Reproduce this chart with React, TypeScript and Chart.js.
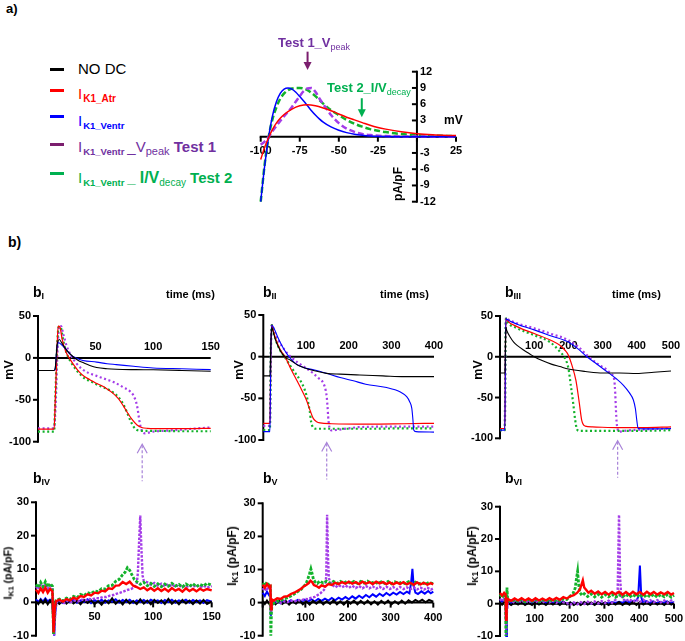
import React, { useEffect, useRef } from 'react';
import { Chart, registerables } from 'chart.js';
Chart.register(...registerables);

type P = [number, number][];

// ---------------- Panel a : I/V relationships (mV, pA/pF) ----------------
const ivRed: P = [[-100,-4.2],[-97.5,-2],[-95,-0.2],[-92.5,1.3],[-90,2.5],[-87.5,3.4],[-85,4.1],[-80,5.1],[-75,5.7],[-70,5.9],[-65,5.7],[-60,5.3],[-55,4.8],[-50,4.2],[-45,3.6],[-40,3.1],[-35,2.6],[-30,2.1],[-25,1.7],[-20,1.4],[-10,0.9],[0,0.55],[10,0.35],[25,0.2]];
const ivBlue: P = [[-100,-12],[-97.5,-5.5],[-95,-0.2],[-92.5,3.8],[-90,6.4],[-87.5,8],[-85,8.8],[-82.5,9],[-80,8.8],[-77.5,8.2],[-75,7.4],[-72.5,6.6],[-70,5.7],[-67.5,4.8],[-65,4],[-62.5,3.3],[-60,2.7],[-55,1.8],[-50,1.2],[-45,0.75],[-40,0.45],[-35,0.27],[-30,0.15],[-20,0.05],[0,0.01],[25,0]];
const ivPurple: P = [[-100,-1.5],[-97.5,-0.9],[-95,-0.1],[-92.5,1],[-90,2],[-87.5,2.9],[-85,3.8],[-82.5,4.6],[-80,5.5],[-77.5,6.5],[-75,7.5],[-72.5,8.4],[-70,8.9],[-67.5,9],[-65,8.3],[-62.5,7.1],[-60,6],[-57.5,5],[-55,4],[-52.5,3.2],[-50,2.5],[-45,1.5],[-40,0.9],[-35,0.5],[-30,0.3],[-20,0.12],[0,0.03],[25,0]];
const ivGreen: P = [[-100,-12],[-97.5,-5.2],[-95,-0.2],[-92.5,3.2],[-90,5.4],[-87.5,7],[-85,8],[-82.5,8.6],[-80,8.9],[-77.5,9],[-75,9],[-72.5,8.9],[-70,8.6],[-67.5,8.1],[-65,7.5],[-62.5,6.8],[-60,6.1],[-55,4.9],[-50,4],[-45,3.1],[-40,2.4],[-35,1.85],[-30,1.4],[-25,1.1],[-20,0.85],[-10,0.5],[0,0.3],[10,0.2],[25,0.1]];
const ivXTicks = [-100, -75, -50, -25, 0, 25];
const ivXLabels = ['-100', '-75', '-50', '-25', '', '25'];
const ivYTicks = [-12, -9, -6, -3, 0, 3, 6, 9, 12];
const ivYLabels = ['-12', '-9', '-6', '-3', '', '3', '6', '9', '12'];
const ivArrowX = [-70, -35.3];
const ivArrowFrom = [15.7, 7.1];
const ivArrowTo = [12.3, 3.6];

// ---------------- Panels bI-bIII : action potentials (ms, mV) ----------------
const apYTicks = [-100, -50, 0, 50];
const apYLabels = ['-100', '-50', '0', '50'];

const bI_black: P = [[0,-15],[14,-15],[15,-12],[16.5,15],[18.5,22],[21,17],[25,9],[30,2],[35,-3],[39,-5.5],[45,-9],[51,-11.5],[60,-13],[68,-13.6],[85,-14],[100,-14.2],[125,-15],[150,-16]];
const bI_blue: P = [[0,-15],[14,-15],[15,-12],[16.5,12],[18,18],[21,15],[25,9],[29,3],[33,0],[39,-3],[51,-5],[60,-7],[68,-8],[83,-10],[100,-12],[125,-13],[150,-14]];
const bI_red: P = [[0,-85],[14,-85],[15,-50],[16.5,10],[17.5,38],[19,37],[21,22],[24,8],[28,-2],[32,-10],[36,-17],[40,-22],[45,-26],[50,-30],[55,-33],[60,-37],[65,-42],[70,-49],[74,-57],[78,-66],[82,-74],[86,-80],[90,-83],[95,-84],[110,-84.5],[130,-84.5],[150,-84]];
const bI_green: P = [[0,-88],[14,-88],[15,-50],[16.5,10],[18,37],[19.5,37],[22,20],[25,5],[29,-6],[33,-14],[37,-20],[41,-25],[46,-28],[50,-31],[55,-34],[60,-37],[65,-41],[70,-47],[74,-55],[77,-64],[80,-74],[83,-82],[86,-86],[90,-87],[100,-87],[120,-87.5],[150,-87.5]];
const bI_purple: P = [[0,-84],[14,-84],[15.5,-50],[17,10],[18.5,38],[20,38],[22,28],[25,14],[29,2],[33,-6],[38,-13],[44,-18],[50,-21],[54,-23],[60,-26],[66,-29],[74,-35],[80,-40],[83,-45],[86,-57],[88.6,-79],[91,-89],[93,-90],[100,-88],[110,-87],[130,-85],[150,-83]];
const bI_xTicks = [0, 50, 100, 150];
const bI_xLabels = ['', '50', '100', '150'];
const bI_arrow = 90.5;

const bII_black: P = [[0,-23],[15.5,-23],[16.5,-10],[18,20],[20,35],[24,28],[30,18],[38,9],[45,3],[55,-2],[63,-4],[80,-10],[94,-13],[120,-17],[148,-20],[180,-21],[226,-22],[280,-23],[330,-24],[400,-24]];
const bII_blue: P = [[0,-90],[15.5,-90],[16.5,-50],[18,15],[20,38],[25,34],[35,22],[45,12],[60,0],[75,-8],[94,-13],[120,-16],[148,-20],[180,-25],[211,-29],[240,-33],[289,-37],[320,-42],[336,-48],[343,-54],[348,-62],[350.5,-75],[352.5,-88],[358,-90],[400,-90.5]];
const bII_red: P = [[0,-80],[15.5,-80],[16.5,-50],[18,15],[20,38],[24,30],[30,20],[40,8],[51,0],[62,-12],[75,-25],[88,-38],[101,-52],[110,-65],[117,-74],[125,-78],[133,-79.5],[160,-80.5],[250,-81],[330,-80.5],[400,-80]];
const bII_green: P = [[0,-88],[15.5,-88],[16.5,-50],[18,15],[20,38],[24,30],[30,19],[40,7],[51,-1],[62,-10],[74,-19],[86,-28],[95,-37],[102,-48],[109,-66],[112,-78],[117,-85],[124,-86.5],[160,-86.5],[250,-86.5],[330,-86],[400,-86]];
const bII_purple: P = [[0,-83],[15.5,-83],[16.5,-50],[18,15],[20,38],[25,32],[35,20],[50,8],[62,1],[78,-6],[95,-12],[117,-20],[130,-26],[141,-32],[146,-40],[148.6,-48],[150.5,-60],[152,-72],[154,-82],[156,-87],[160,-88.5],[170,-88],[200,-86],[226,-84.5],[300,-84],[400,-84]];
const bII_xTicks = [0, 100, 200, 300, 400];
const bII_xLabels = ['', '100', '200', '300', '400'];
const bII_arrow = 148.6;

const bIII_black: P = [[0,-20],[14,-20],[15,-15],[16,15],[17,36],[20,32],[30,24],[40,18],[50,14],[70,8],[85,4],[100,0],[125,-5],[150,-9],[175,-12],[200,-15],[250,-18],[300,-20],[350,-20],[400,-20.5],[450,-19],[500,-17.5]];
const bIII_blue: P = [[0,-90],[14,-90],[15,-50],[16,15],[17.5,47],[20,46],[50,40],[100,33],[150,25.5],[200,18],[230,9],[254,0],[280,-8],[312,-18],[340,-27],[361,-35],[378,-44],[390,-53],[396,-64],[400,-78],[404,-88],[420,-88.5],[500,-88]];
const bIII_red: P = [[0,-88],[14,-88],[15,-50],[16,15],[17.5,47],[20,45],[50,37],[100,28.5],[150,20],[175,14],[190,8],[200,2],[210,-10],[222,-29],[232,-57],[239,-78],[249,-85],[270,-86],[350,-87],[420,-87],[500,-86]];
const bIII_green: P = [[0,-90],[14,-90],[15,-50],[16,15],[17.5,47],[20,44],[50,35],[100,26.5],[146,18],[176,6],[190,-2],[200,-14],[207,-35],[214,-57],[220,-78],[225,-89],[232,-91],[300,-91],[400,-91],[500,-90]];
const bIII_purple: P = [[0,-90],[14,-90],[15,-50],[16,15],[17.5,48],[20,47],[50,41],[100,35],[150,28],[200,20.5],[230,12],[254,2],[280,-7],[312,-16],[325,-21],[334,-28],[337,-45],[339,-65],[341,-80],[344,-89],[348,-92],[360,-91],[400,-89.5],[500,-88]];
const bIII_xTicks = [0, 100, 200, 300, 400, 500];
const bIII_xLabels = ['', '100', '200', '300', '400', '500'];
const bIII_arrow = 344;

// ---------------- Panels bIV-bVI : IK1 (ms, pA/pF) ----------------
const ikYTicks = [-10, 0, 10, 20, 30];
const ikYLabels = ['-10', '0', '10', '20', '30'];

const bIV_black: P = [[0,0.4],[2,-0.5],[4,0.7],[6,-0.3],[8,0.8],[10,-0.6],[12,0.5],[14,0.1],[15,-9.5],[16,-2],[17,0.3],[20,-0.5],[23,0.6],[26,-0.4],[29,0.8],[32,-0.3],[35,0.5],[38,-0.6],[41,0.7],[44,-0.2],[47,0.6],[50,-0.5],[53,0.4],[56,-0.7],[59,0.6],[62,-0.3],[65,1.2],[68,-0.4],[71,0.5],[74,-0.6],[77,0.8],[80,-0.3],[83,0.4],[86,-0.5],[89,0.9],[92,-0.4],[95,0.5],[98,-0.6],[101,0.7],[104,-0.2],[107,0.6],[110,-0.5],[113,1.0],[116,-0.4],[119,0.5],[122,-0.6],[125,0.7],[128,-0.3],[131,0.5],[134,-0.5],[137,0.6],[140,-0.4],[143,0.7],[146,-0.5],[150,0.3]];
const bIV_blue: P = [[0,0.9],[2,0.1],[4,1.0],[6,0.2],[8,1.2],[10,0.3],[12,0.8],[14,0.5],[15.5,-10],[16.5,-3],[17.5,0.2],[20,0.6],[23,-0.2],[26,0.7],[29,0],[32,0.8],[35,-0.1],[38,0.6],[41,0.1],[44,0.9],[47,-0.2],[50,0.7],[53,0],[56,0.8],[59,-0.1],[62,0.6],[65,0.2],[68,0.9],[71,-0.1],[74,0.7],[77,0.1],[80,0.8],[83,-0.2],[86,0.6],[89,0.1],[92,0.7],[95,-0.1],[98,0.8],[101,0.2],[104,0.6],[107,-0.2],[110,0.7],[113,0.1],[116,0.8],[119,-0.1],[122,0.6],[125,0.2],[128,0.8],[131,-0.1],[134,0.7],[137,0.1],[140,0.6],[143,-0.2],[146,0.7],[150,0.2]];
const bIV_red: P = [[0,3.8],[2,2.8],[4,4.2],[6,3.1],[8,4.4],[10,2.9],[12,4.0],[14,3.3],[15,-9],[16,-2],[17,0.3],[20,0.8],[23,0.2],[26,1.0],[29,0.6],[32,1.4],[35,1.0],[38,1.9],[41,1.6],[44,2.4],[47,2.1],[50,2.9],[53,2.7],[56,3.5],[59,3.3],[62,4.2],[65,4.0],[68,5.0],[71,5.1],[74,6.1],[77,5.5],[80,6.2],[83,5.0],[86,4.6],[89,4.0],[92,4.5],[95,3.6],[98,4.3],[101,3.5],[104,4.2],[107,3.4],[110,4.1],[113,3.3],[116,4.3],[119,3.5],[122,4.0],[125,3.2],[128,4.2],[131,3.4],[134,4.0],[137,3.3],[140,4.1],[143,3.5],[146,4.0],[150,3.6]];
const bIV_green: P = [[0,5.4],[2,4.4],[4,6.0],[6,4.7],[8,6.2],[10,4.6],[12,5.6],[14,4.9],[15,-9.5],[16,-2],[17,0.5],[20,1.0],[23,0.4],[26,1.3],[29,0.9],[32,1.8],[35,1.4],[38,2.4],[41,2.0],[44,2.9],[47,2.6],[50,3.4],[53,3.2],[56,4.1],[59,4.0],[62,5.0],[65,5.1],[68,6.3],[71,6.9],[74,8.3],[76,9.0],[78,10.4],[80,9.6],[82,8.2],[84,6.8],[86,6.2],[89,5.4],[92,6.0],[95,5.0],[98,5.7],[101,4.8],[104,5.6],[107,4.7],[110,5.5],[113,4.8],[116,5.7],[119,4.9],[122,5.4],[125,4.6],[128,5.5],[131,4.8],[134,5.6],[137,4.7],[140,5.4],[143,4.9],[146,5.7],[150,5.1]];
const bIV_purple: P = [[0,4.8],[2,3.9],[4,5.3],[6,4.1],[8,5.5],[10,4.0],[12,5.0],[14,4.4],[15.5,-10],[16.5,-2],[18,0.1],[21,0.4],[24,-0.2],[27,0.5],[30,0.1],[33,0.6],[36,0.3],[39,0.8],[42,0.6],[45,1.0],[48,0.9],[51,1.3],[54,1.2],[57,1.6],[60,1.6],[63,2.0],[66,2.2],[69,2.6],[72,2.9],[75,3.3],[78,3.7],[81,4.0],[84,4.5],[86,5.5],[87,9],[88,18],[89,26],[90,16],[91,8],[92,6.5],[95,6.0],[98,5.3],[101,5.8],[104,5.0],[107,5.6],[110,4.8],[113,5.5],[116,4.7],[119,5.3],[122,4.6],[125,5.2],[128,4.5],[131,5.1],[134,4.6],[137,5.2],[140,4.5],[143,5.0],[146,4.4],[150,4.9]];
const bIV_xTicks = [0, 50, 100, 150];
const bIV_xLabels = ['', '50', '100', '150'];

const bV_black: P = [[0,0.5],[5,-0.4],[10,0.6],[15,-0.3],[18,-1],[22,0.4],[30,-0.5],[38,0.6],[46,-0.4],[54,0.5],[62,-0.6],[70,0.4],[78,-0.3],[86,0.7],[94,-0.5],[102,0.4],[110,-0.6],[118,0.5],[126,-0.3],[134,0.6],[142,-0.5],[150,0.4],[158,-0.4],[166,0.7],[174,-0.5],[182,0.4],[190,-0.6],[198,0.5],[206,-0.3],[214,0.6],[222,-0.5],[230,0.5],[238,-0.4],[246,0.6],[254,-0.5],[262,0.4],[270,-0.6],[278,0.5],[286,-0.3],[294,0.6],[302,-0.5],[310,0.4],[318,-0.4],[326,0.6],[334,-0.3],[342,0.7],[350,0],[358,0.8],[366,0.2],[374,0.9],[382,0.1],[390,0.8],[400,0.3]];
const bV_blue: P = [[0,3.0],[5,2.0],[10,3.3],[15,2.2],[18,2.5],[19,-4],[21,0.2],[26,-0.4],[34,0.5],[42,-0.2],[50,0.6],[58,0],[66,0.7],[74,0.1],[82,0.8],[90,0.2],[98,0.9],[106,0.3],[114,1.0],[122,0.3],[130,1.1],[138,0.5],[146,1.2],[154,0.6],[162,1.4],[170,0.7],[178,1.5],[186,0.9],[194,1.7],[202,1.0],[210,1.9],[218,1.2],[226,2.1],[234,1.4],[242,2.3],[250,1.6],[258,2.5],[266,1.8],[274,2.7],[282,2.0],[290,2.9],[298,2.2],[306,3.0],[314,2.4],[322,3.2],[330,2.6],[338,3.3],[344,2.8],[348,6],[351,10.2],[354,5],[358,3],[364,2.6],[372,3.4],[380,2.7],[388,3.5],[394,2.8],[400,3.3]];
const bV_red: P = [[0,5.4],[5,4.5],[10,5.6],[15,4.7],[18,5],[19.5,-2],[21,1.0],[26,0.6],[34,1.3],[42,1.1],[50,1.8],[58,1.9],[66,2.6],[74,3.0],[82,3.6],[90,4.2],[96,4.9],[102,5.3],[108,5.9],[112,6.6],[116,6.2],[120,5.3],[126,5.0],[132,4.5],[138,5.2],[146,4.8],[154,5.6],[162,5.3],[170,6.0],[178,5.6],[186,6.2],[194,5.7],[202,6.3],[210,5.7],[218,6.2],[226,5.6],[234,6.3],[242,5.7],[250,6.2],[258,5.6],[266,6.3],[274,5.8],[282,6.2],[290,5.6],[298,6.1],[306,5.5],[314,6.1],[322,5.6],[330,6.2],[338,5.5],[346,6.0],[354,5.4],[362,6.1],[370,5.5],[378,6.0],[386,5.4],[394,5.9],[400,5.5]];
const bV_green: P = [[0,5.9],[5,5.1],[10,6.2],[15,5.2],[18,5.5],[19,-10],[20.5,-3],[22,0.2],[26,-0.2],[34,0.4],[42,0.6],[50,1.1],[58,1.5],[66,2.0],[74,2.6],[82,3.3],[90,4.0],[96,4.8],[102,5.8],[106,7.2],[110,8.8],[113,10.2],[116,8.7],[119,7.0],[123,6.2],[128,5.8],[134,6.5],[142,5.9],[150,6.5],[158,5.8],[166,6.4],[174,5.8],[182,6.4],[190,5.9],[198,6.5],[206,5.8],[214,6.4],[222,5.8],[230,6.4],[238,5.9],[246,6.5],[254,5.8],[262,6.3],[270,5.7],[278,6.3],[286,5.8],[294,6.4],[302,5.7],[310,6.3],[318,5.8],[326,6.2],[334,5.7],[342,6.3],[350,5.6],[358,6.2],[366,5.6],[374,6.1],[382,5.5],[390,6.1],[400,5.7]];
const bV_purple: P = [[0,4.4],[5,3.5],[10,4.6],[15,3.7],[18,4],[19.5,-3],[21,0.2],[26,-0.3],[34,0.3],[42,-0.1],[50,0.4],[58,0.1],[66,0.6],[74,0.3],[82,0.8],[90,0.6],[98,1.1],[106,1.0],[114,1.5],[122,1.7],[130,2.4],[136,2.9],[142,3.6],[146,4.2],[149,8],[151,26.5],[153,14],[155,7.5],[158,6.2],[164,5.3],[170,4.6],[178,5.3],[186,4.6],[194,5.2],[202,4.5],[210,5.1],[218,4.4],[226,5.0],[234,4.3],[242,5.0],[250,4.3],[258,4.9],[266,4.2],[274,4.8],[282,4.1],[290,4.8],[298,4.1],[306,4.7],[314,4.0],[322,4.7],[330,4.1],[338,4.6],[346,4.0],[354,4.6],[362,4.0],[370,4.5],[378,3.9],[386,4.5],[394,3.9],[400,4.3]];
const bV_xTicks = [0, 100, 200, 300, 400];
const bV_xLabels = ['', '100', '200', '300', '400'];

const bVI_black: P = [[0,0.4],[6,-0.3],[12,0.5],[17,-1],[22,0.3],[32,-0.4],[42,0.4],[52,-0.3],[62,0.5],[72,-0.4],[82,0.3],[92,-0.4],[102,0.5],[112,-0.3],[122,0.4],[132,-0.4],[142,0.5],[152,-0.3],[162,0.4],[172,-0.4],[182,0.5],[192,-0.3],[202,0.4],[212,-0.4],[222,0.3],[232,-0.4],[242,0.5],[252,-0.3],[262,0.4],[272,-0.4],[282,0.5],[292,-0.3],[302,0.4],[312,-0.4],[322,0.3],[332,-0.3],[342,0.5],[352,-0.4],[362,0.4],[372,-0.3],[382,0.6],[392,-0.4],[402,0.5],[412,-0.3],[422,0.4],[432,-0.4],[442,0.5],[452,-0.3],[462,0.4],[472,-0.4],[482,0.5],[492,-0.3],[500,0.2]];
const bVI_blue: P = [[0,1.3],[6,0.6],[12,1.4],[16,1],[18,-10],[20,-2],[22,0.6],[32,0.1],[42,0.7],[52,0.2],[62,0.8],[72,0.1],[82,0.7],[92,0.2],[102,0.8],[112,0.1],[122,0.7],[132,0.2],[142,0.8],[152,0.1],[162,0.7],[172,0.2],[182,0.6],[192,-0.1],[202,0.3],[212,-0.2],[222,0.2],[232,-0.2],[242,0.3],[252,-0.1],[262,0.2],[272,-0.2],[282,0.3],[292,-0.1],[302,0.3],[312,0.1],[322,0.5],[332,0.2],[342,0.6],[352,0.3],[362,0.7],[372,0.4],[382,0.8],[392,1.0],[397,2],[402,11.8],[406,2],[410,0.5],[420,0.8],[430,0.2],[440,0.7],[450,0.1],[460,0.6],[470,0.2],[480,0.7],[490,0.1],[500,0.5]];
const bVI_red: P = [[0,3.3],[6,2.5],[12,3.4],[16,3],[17.5,-5],[19,-1],[22,1.5],[32,0.9],[42,1.6],[52,1.0],[62,1.7],[72,1.0],[82,1.6],[92,0.9],[102,1.7],[112,1.0],[122,1.6],[132,1.0],[142,1.7],[152,1.1],[162,1.8],[172,1.2],[182,2.0],[192,1.6],[202,2.3],[212,2.6],[222,3.4],[230,4.5],[235,6.2],[238,7.2],[242,5.0],[248,4.2],[254,3.4],[262,4.0],[272,3.1],[282,3.8],[292,2.9],[302,3.6],[312,2.8],[322,3.6],[332,2.9],[342,3.7],[352,2.8],[362,3.6],[372,2.8],[382,3.7],[392,2.9],[402,3.6],[412,2.8],[422,3.7],[432,2.9],[442,3.6],[452,2.8],[462,3.5],[472,2.9],[482,3.6],[492,2.8],[500,3.3]];
const bVI_green: P = [[0,2.9],[6,1.8],[12,3.0],[16,2.5],[17,-10],[18.5,-2],[20,5],[22,1.2],[32,0.6],[42,1.3],[52,0.7],[62,1.4],[72,0.6],[82,1.3],[92,0.7],[102,1.4],[112,0.6],[122,1.3],[132,0.7],[142,1.4],[152,0.7],[162,1.3],[172,0.8],[182,1.5],[192,1.3],[202,2.4],[210,3.2],[216,4.8],[220,8.0],[223,10],[226,6],[229,3.6],[235,2.6],[242,3.1],[252,2.2],[262,3.0],[272,2.1],[282,2.9],[292,2.0],[302,2.8],[312,2.1],[322,2.9],[332,2.0],[342,2.8],[352,2.1],[362,2.9],[372,2.0],[382,2.8],[392,2.1],[402,2.9],[412,2.0],[422,2.8],[432,2.1],[442,2.9],[452,2.0],[462,2.8],[472,2.1],[482,2.9],[492,2.0],[500,2.6]];
const bVI_purple: P = [[0,1.5],[6,0.7],[12,1.6],[16,1],[18,-10],[20,-2],[22,0.4],[32,1.0],[42,0.3],[52,1.1],[62,0.4],[72,1.0],[82,0.3],[92,1.1],[102,0.4],[112,1.0],[122,0.3],[132,1.1],[142,0.4],[152,1.0],[162,0.3],[172,1.1],[182,0.4],[192,0.2],[202,-0.3],[212,0.4],[222,-0.2],[232,0.5],[242,-0.1],[252,0.6],[262,0],[272,0.7],[282,0.1],[292,0.8],[302,0.2],[312,0.9],[322,0.3],[332,1.2],[338,3],[342,27.5],[345,8],[348,3],[352,1.5],[362,0.8],[372,1.4],[382,0.6],[392,1.3],[402,0.5],[412,1.2],[422,0.5],[432,1.1],[442,0.4],[452,1.1],[462,0.4],[472,1.0],[482,0.3],[492,1.0],[500,0.5]];
const bVI_xTicks = [0, 100, 200, 300, 400, 500];
const bVI_xLabels = ['', '100', '200', '300', '400', '500'];

// ---------------- styling ----------------
const FONT = '"Liberation Sans", Arial, Helvetica, sans-serif';
const C = {
  black: '#000000', red: '#FF0000', blue: '#0000FF',
  purple: '#A43CE8', green: '#12B22A', darkPurple: '#7B1E6E',
  textPurple: '#7030A0', textGreen: '#00B050', arrow: '#A883D8',
};

const axesPlugin: any = {
  id: 'crossAxes',
  beforeDatasetsDraw(chart: any, _a: any, o: any) {
    const ctx = chart.ctx;
    const xs = chart.scales.x, ys = chart.scales.y;
    const x0 = xs.getPixelForValue(o.yAt);
    const y0 = ys.getPixelForValue(o.xAt);
    ctx.save();
    ctx.strokeStyle = '#000';
    ctx.fillStyle = '#000';
    ctx.lineWidth = 2;
    ctx.beginPath();
    ctx.moveTo(xs.getPixelForValue(xs.min) - 1, y0);
    ctx.lineTo(xs.getPixelForValue(xs.max), y0);
    ctx.stroke();
    ctx.beginPath();
    ctx.moveTo(x0, ys.getPixelForValue(ys.max) - 1);
    ctx.lineTo(x0, ys.getPixelForValue(ys.min) + 1);
    ctx.stroke();
    ctx.font = 'bold 11px ' + FONT;
    o.xTicks.forEach((v: number, i: number) => {
      const px = xs.getPixelForValue(v);
      ctx.beginPath();
      ctx.moveTo(px, y0);
      ctx.lineTo(px, y0 + o.xTickLen);
      ctx.stroke();
      const lab = o.xLabels[i];
      if (lab) {
        ctx.textAlign = 'center';
        if (o.xSide === 'below') { ctx.textBaseline = 'top'; ctx.fillText(lab, px, y0 + o.xGap); }
        else { ctx.textBaseline = 'alphabetic'; ctx.fillText(lab, px, y0 - o.xGap); }
      }
    });
    o.yTicks.forEach((v: number, i: number) => {
      const py = ys.getPixelForValue(v);
      ctx.beginPath();
      ctx.moveTo(x0 - o.yTickLen, py);
      ctx.lineTo(x0, py);
      ctx.stroke();
      const lab = o.yLabels[i];
      if (lab) {
        ctx.textBaseline = 'middle';
        if (o.ySide === 'left') { ctx.textAlign = 'right'; ctx.fillText(lab, x0 - o.yGap, py); }
        else { ctx.textAlign = 'left'; ctx.fillText(lab, x0 + o.yGap, py); }
      }
    });
    ctx.restore();
  },
  afterDatasetsDraw(chart: any, _a: any, o: any) {
    const ctx = chart.ctx;
    const xs = chart.scales.x, ys = chart.scales.y;
    ctx.save();
    if (o.upArrowX !== undefined && o.upArrowX !== null) {
      const px = xs.getPixelForValue(o.upArrowX);
      const tip = ys.getPixelForValue(ys.min) + 2.5;
      ctx.strokeStyle = C.arrow;
      ctx.lineWidth = 1.2;
      ctx.setLineDash([3, 2]);
      ctx.beginPath();
      ctx.moveTo(px, tip + 1);
      ctx.lineTo(px, tip + 37);
      ctx.stroke();
      ctx.setLineDash([]);
      ctx.beginPath();
      ctx.moveTo(px - 5, tip + 9);
      ctx.lineTo(px, tip);
      ctx.lineTo(px + 5, tip + 9);
      ctx.stroke();
    }
    if (o.downArrows) {
      o.downArrows.x.forEach((xv: number, i: number) => {
        const px = xs.getPixelForValue(xv);
        const p1 = ys.getPixelForValue(o.downArrows.from[i]);
        const p2 = ys.getPixelForValue(o.downArrows.to[i]);
        ctx.strokeStyle = o.downArrows.colors[i];
        ctx.fillStyle = o.downArrows.colors[i];
        ctx.lineWidth = 2;
        ctx.beginPath();
        ctx.moveTo(px, p1);
        ctx.lineTo(px, p2 - 7);
        ctx.stroke();
        ctx.beginPath();
        ctx.moveTo(px - 4, p2 - 8);
        ctx.lineTo(px + 4, p2 - 8);
        ctx.lineTo(px, p2);
        ctx.closePath();
        ctx.fill();
      });
    }
    ctx.restore();
  },
};

type Series = { data: P; color: string; w?: number; dash?: number[]; smooth?: boolean };

function Panel(props: any) {
  const ref = useRef<HTMLCanvasElement>(null);
  const { box, pad, xr, yr, sets, axes } = props;
  useEffect(() => {
    const chart = new Chart(ref.current as HTMLCanvasElement, {
      type: 'line',
      data: {
        datasets: sets.map((s: Series) => ({
          data: s.data.map(([a, b]) => ({ x: a, y: b })),
          borderColor: s.color,
          borderWidth: s.w ?? 1.3,
          borderDash: s.dash ?? [],
          pointRadius: 0,
          tension: 0,
          cubicInterpolationMode: s.smooth ? 'monotone' : 'default',
          fill: false,
          clip: false,
        })),
      },
      options: {
        responsive: false,
        maintainAspectRatio: false,
        animation: false,
        events: [],
        layout: { padding: pad },
        scales: {
          x: { type: 'linear', min: xr[0], max: xr[1], display: false },
          y: { type: 'linear', min: yr[0], max: yr[1], display: false },
        },
        plugins: {
          legend: { display: false },
          tooltip: { enabled: false },
          crossAxes: axes,
        } as any,
      },
      plugins: [axesPlugin],
    } as any);
    return () => chart.destroy();
  }, []);
  return (
    <canvas
      ref={ref}
      width={box.w}
      height={box.h}
      style={{ position: 'absolute', left: box.l, top: box.t, width: box.w, height: box.h }}
    />
  );
}

// text helpers (baseline positioned)
function T(props: any) {
  const { x, b, size, bold, color, children } = props;
  return (
    <div
      style={{
        position: 'absolute', left: x, top: b - 0.8465 * size, fontSize: size, lineHeight: 1,
        fontWeight: bold ? 700 : 400, color: color || '#000', whiteSpace: 'nowrap', fontFamily: FONT,
      }}
    >
      {children}
    </div>
  );
}
function Sub(props: any) {
  const { size, bold, dy, children, ml } = props;
  return (
    <span style={{ fontSize: size, fontWeight: bold ? 700 : 400, position: 'relative', top: dy, marginLeft: ml || 0 }}>
      {children}
    </span>
  );
}
function R(props: any) {
  const { cx, cy, size, children } = props;
  return (
    <div
      style={{
        position: 'absolute', left: cx, top: cy, transform: 'translate(-50%,-50%) rotate(-90deg)',
        fontSize: size, fontWeight: 700, lineHeight: 1, whiteSpace: 'nowrap', fontFamily: FONT, color: '#000',
      }}
    >
      {children}
    </div>
  );
}

const apAxes = (xTicks: number[], xLabels: string[], arrow: number) => ({
  xAt: 0, yAt: 0, xTicks, xLabels, yTicks: apYTicks, yLabels: apYLabels,
  xSide: 'above', xGap: 7.5, xTickLen: 0, ySide: 'left', yGap: 7, yTickLen: 5, upArrowX: arrow,
});
const ikAxes = (xTicks: number[], xLabels: string[]) => ({
  xAt: 0, yAt: 0, xTicks, xLabels, yTicks: ikYTicks, yLabels: ikYLabels,
  xSide: 'below', xGap: 9.5, xTickLen: 5, ySide: 'left', yGap: 7, yTickLen: 5,
});

const apSets = (bk: P, bl: P, rd: P, gr: P, pu: P): Series[] => [
  { data: bk, color: C.black, w: 1.1, smooth: true },
  { data: bl, color: C.blue, w: 1.1, smooth: true },
  { data: rd, color: C.red, w: 1.2, smooth: true },
  { data: gr, color: C.green, w: 2.2, dash: [2, 2.6], smooth: true },
  { data: pu, color: C.purple, w: 2.2, dash: [2, 2.6], smooth: true },
];
const ikSets = (bk: P, bl: P, rd: P, gr: P, pu: P): Series[] => [
  { data: rd, color: C.red, w: 2.4 },
  { data: gr, color: C.green, w: 2.8, dash: [3, 1.5] },
  { data: pu, color: C.purple, w: 2.4, dash: [2.5, 1.5] },
  { data: bk, color: C.black, w: 2 },
  { data: bl, color: C.blue, w: 2 },
];

export default function App() {
  const sw = (top: number, color: string) => (
    <div style={{ position: 'absolute', left: 50, top: top - 1.5, width: 14, height: 3, background: color }} />
  );
  return (
    <div style={{ position: 'fixed', left: 0, top: 0, width: 685, height: 641, background: '#fff', overflow: 'hidden', fontFamily: FONT }}>
      {/* panel labels */}
      <T x={6} b={13.5} size={13} bold>a)</T>
      <T x={8} b={247} size={14} bold>b)</T>

      {/* legend */}
      {sw(69, C.black)}
      {sw(90, C.red)}
      {sw(116.7, C.blue)}
      {sw(144, C.darkPurple)}
      {sw(173.5, C.textGreen)}
      <T x={78} b={74} size={15}>NO DC</T>
      <T x={78} b={99} size={15} color={C.red}>I<Sub size={10} bold dy={2.5} ml={1}>K1_Atr</Sub></T>
      <T x={78} b={126} size={15} color={C.blue}>I<Sub size={9.5} bold dy={3} ml={1}>K1_Ventr</Sub></T>
      <T x={78} b={151.7} size={15} color={C.textPurple}>
        I<Sub size={9.5} bold dy={3} ml={1}>K1_Ventr</Sub>
        <span style={{ marginLeft: 3 }}>_V</span>
        <Sub size={11} dy={3}>peak</Sub>
        <span style={{ fontWeight: 700 }}> Test 1</span>
      </T>
      <T x={78} b={182.7} size={15} color={C.textGreen}>
        I<Sub size={9.5} bold dy={3} ml={1}>K1_Ventr</Sub>
        <span style={{ fontWeight: 700, marginLeft: 3 }}>_</span>
        <span style={{ fontWeight: 700, marginLeft: 4, fontSize: 16 }}>I/V</span>
        <Sub size={10} dy={3}>decay</Sub>
        <span style={{ fontWeight: 700 }}> Test 2</span>
      </T>

      {/* panel a chart */}
      <Panel
        box={{ l: 230, t: 25, w: 250, h: 190 }}
        pad={{ left: 30.7, right: 24, top: 46.7, bottom: 13.3 }}
        xr={[-100, 25]}
        yr={[-12, 12]}
        sets={[
          { data: ivRed, color: C.red, w: 1.5, smooth: true },
          { data: ivBlue, color: C.blue, w: 1.5, smooth: true },
          { data: ivPurple, color: C.purple, w: 2.5, dash: [6, 3], smooth: true },
          { data: ivGreen, color: C.green, w: 2.5, dash: [6, 3], smooth: true },
        ]}
        axes={{
          xAt: 0, yAt: 0, xTicks: ivXTicks, xLabels: ivXLabels, yTicks: ivYTicks, yLabels: ivYLabels,
          xSide: 'below', xGap: 9, xTickLen: 5, ySide: 'right', yGap: 3, yTickLen: 5,
          downArrows: { x: ivArrowX, from: ivArrowFrom, to: ivArrowTo, colors: [C.darkPurple, C.textGreen] },
        }}
      />
      <T x={278} b={46.7} size={13} bold color={C.textPurple}>Test 1_V<Sub size={9} dy={3}>peak</Sub></T>
      <T x={327} b={91.7} size={13} bold color={C.textGreen}>Test 2_I/V<Sub size={9} dy={3}>decay</Sub></T>
      <T x={444} b={124} size={12} bold>mV</T>
      <R cx={398} cy={184} size={12}>pA/pF</R>

      {/* panels bI - bIII */}
      <Panel
        box={{ l: 0, t: 285, w: 230, h: 200 }}
        pad={{ left: 38, right: 19.3, top: 31, bottom: 43.3 }}
        xr={[0, 150]} yr={[-100, 50]}
        sets={apSets(bI_black, bI_blue, bI_red, bI_green, bI_purple)}
        axes={apAxes(bI_xTicks, bI_xLabels, bI_arrow)}
      />
      <Panel
        box={{ l: 225, t: 285, w: 230, h: 200 }}
        pad={{ left: 38.3, right: 21, top: 30, bottom: 45 }}
        xr={[0, 400]} yr={[-100, 50]}
        sets={apSets(bII_black, bII_blue, bII_red, bII_green, bII_purple)}
        axes={apAxes(bII_xTicks, bII_xLabels, bII_arrow)}
      />
      <Panel
        box={{ l: 460, t: 285, w: 225, h: 200 }}
        pad={{ left: 40, right: 14, top: 31, bottom: 46.7 }}
        xr={[0, 500]} yr={[-100, 50]}
        sets={apSets(bIII_black, bIII_blue, bIII_red, bIII_green, bIII_purple)}
        axes={apAxes(bIII_xTicks, bIII_xLabels, bIII_arrow)}
      />

      {/* panels bIV - bVI */}
      <Panel
        box={{ l: 0, t: 490, w: 230, h: 151 }}
        pad={{ left: 36, right: 18.3, top: 12.3, bottom: 5.3 }}
        xr={[0, 150]} yr={[-10, 30]}
        sets={ikSets(bIV_black, bIV_blue, bIV_red, bIV_green, bIV_purple)}
        axes={ikAxes(bIV_xTicks, bIV_xLabels)}
      />
      <Panel
        box={{ l: 225, t: 490, w: 230, h: 151 }}
        pad={{ left: 37.7, right: 21.7, top: 13.3, bottom: 5.3 }}
        xr={[0, 400]} yr={[-10, 30]}
        sets={ikSets(bV_black, bV_blue, bV_red, bV_green, bV_purple)}
        axes={ikAxes(bV_xTicks, bV_xLabels)}
      />
      <Panel
        box={{ l: 460, t: 490, w: 225, h: 151 }}
        pad={{ left: 40, right: 11, top: 16.7, bottom: 5 }}
        xr={[0, 500]} yr={[-10, 30]}
        sets={ikSets(bVI_black, bVI_blue, bVI_red, bVI_green, bVI_purple)}
        axes={ikAxes(bVI_xTicks, bVI_xLabels)}
      />

      {/* panel b titles */}
      <T x={33} b={297} size={14} bold>b<Sub size={9} bold dy={2}>I</Sub></T>
      <T x={263} b={297} size={14} bold>b<Sub size={9} bold dy={2}>II</Sub></T>
      <T x={505} b={297} size={14} bold>b<Sub size={9} bold dy={2}>III</Sub></T>
      <T x={33} b={483} size={14} bold>b<Sub size={9} bold dy={2}>IV</Sub></T>
      <T x={263} b={483} size={14} bold>b<Sub size={9} bold dy={2}>V</Sub></T>
      <T x={505} b={483} size={14} bold>b<Sub size={9} bold dy={2}>VI</Sub></T>
      <T x={166} b={298} size={11} bold>time (ms)</T>
      <T x={380} b={298} size={11} bold>time (ms)</T>
      <T x={612} b={298} size={11} bold>time (ms)</T>
      <R cx={9} cy={370} size={12.5}>mV</R>
      <R cx={239} cy={370} size={12.5}>mV</R>
      <R cx={478} cy={370} size={12.5}>mV</R>
      <R cx={8} cy={573} size={10.5}>I<Sub size={8} bold dy={2}>K1</Sub> (pA/pF)</R>
      <R cx={232} cy={556} size={12}>I<Sub size={8.5} bold dy={2}>K1</Sub> (pA/pF)</R>
      <R cx={472} cy={556} size={12}>I<Sub size={8.5} bold dy={2}>K1</Sub> (pA/pF)</R>
    </div>
  );
}
